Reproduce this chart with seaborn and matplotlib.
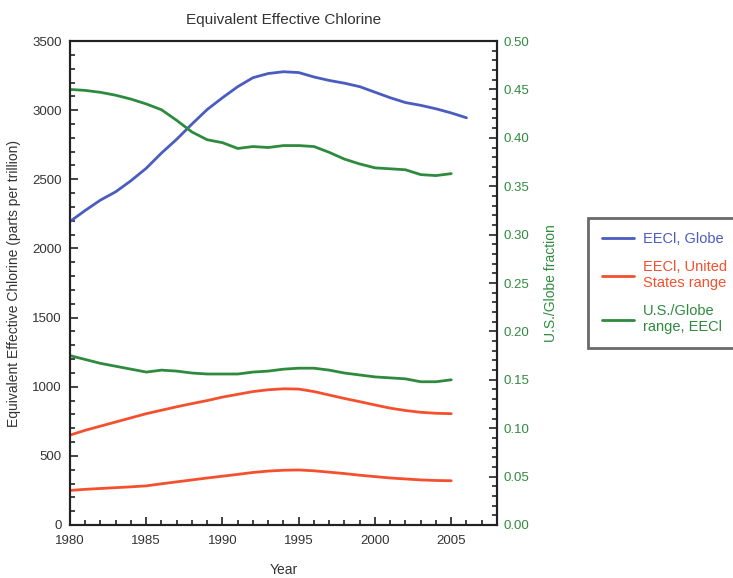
import matplotlib
matplotlib.use("Agg")
import matplotlib.pyplot as plt
import seaborn as sns
import pandas as pd
from matplotlib.ticker import MultipleLocator, FormatStrFormatter

years = list(range(1980, 2007))

eecl_globe = [2195, 2275, 2350, 2410, 2490, 2580, 2690, 2790, 2900, 3005,
              3090, 3170, 3235, 3265, 3278, 3272, 3240, 3215, 3195, 3170,
              3130, 3090, 3055, 3035, 3010, 2980, 2945]
us_high = [650, 685, 715, 745, 775, 805, 830, 855, 878, 900,
           925, 945, 965, 978, 985, 983, 965, 940, 915, 892,
           868, 845, 828, 815, 808, 805]
us_low = [250, 258, 264, 270, 276, 283, 298, 312, 326, 340,
          353, 366, 380, 390, 396, 398, 392, 382, 372, 360,
          350, 340, 333, 326, 322, 320]
frac_high = [0.450, 0.449, 0.447, 0.444, 0.440, 0.435, 0.429, 0.418, 0.406, 0.398,
             0.395, 0.389, 0.391, 0.390, 0.392, 0.392, 0.391, 0.385, 0.378, 0.373,
             0.369, 0.368, 0.367, 0.362, 0.361, 0.363]
frac_low = [0.175, 0.171, 0.167, 0.164, 0.161, 0.158, 0.160, 0.159, 0.157, 0.156,
            0.156, 0.156, 0.158, 0.159, 0.161, 0.162, 0.162, 0.160, 0.157, 0.155,
            0.153, 0.152, 0.151, 0.148, 0.148, 0.150]

BLUE = "#4a5cc0"
RED = "#f4502e"
GREEN = "#2e8b3e"
TXT = "#333333"

sns.set_style("ticks")
plt.rcParams["font.family"] = ["Liberation Sans", "DejaVu Sans"]

globe = pd.DataFrame({"year": years, "val": eecl_globe})
us = pd.DataFrame({"year": years[:26], "high": us_high, "low": us_low,
                   "fhigh": frac_high, "flow": frac_low})

fig = plt.figure(figsize=(7.33, 5.78), dpi=100)
ax = fig.add_axes([0.0955, 0.0917, 0.5825, 0.8373])
ax2 = ax.twinx()

sns.lineplot(x="year", y="val", data=globe, ax=ax, color=BLUE, lw=2, legend=False)
sns.lineplot(x="year", y="high", data=us, ax=ax, color=RED, lw=2, legend=False)
sns.lineplot(x="year", y="low", data=us, ax=ax, color=RED, lw=2, legend=False)
sns.lineplot(x="year", y="fhigh", data=us, ax=ax2, color=GREEN, lw=2, legend=False)
sns.lineplot(x="year", y="flow", data=us, ax=ax2, color=GREEN, lw=2, legend=False)

ax.set_xlim(1980, 2008)
ax.set_ylim(0, 3500)
ax2.set_ylim(0, 0.5)

ax.xaxis.set_major_locator(MultipleLocator(5))
ax.xaxis.set_minor_locator(MultipleLocator(1))
ax.yaxis.set_major_locator(MultipleLocator(500))
ax.yaxis.set_minor_locator(MultipleLocator(100))
ax2.yaxis.set_major_locator(MultipleLocator(0.05))
ax2.yaxis.set_minor_locator(MultipleLocator(0.01))
ax2.yaxis.set_major_formatter(FormatStrFormatter("%.2f"))

for a in (ax, ax2):
    for s in a.spines.values():
        s.set_color("#222222")
        s.set_linewidth(1.5)
ax.tick_params(which="both", direction="in", colors="#222222", labelcolor=TXT,
               labelsize=9.5, width=1.2, top=False)
ax.tick_params(axis="x", which="major", length=6, pad=7)
ax.tick_params(axis="y", which="major", length=6, pad=6)
ax.tick_params(which="minor", length=3.5)
ax2.tick_params(which="both", direction="in", colors="#222222", labelcolor=GREEN,
                labelsize=9.5, width=1.2)
ax2.tick_params(which="major", length=6, pad=5)
ax2.tick_params(which="minor", length=3.5)

ax.set_title("Equivalent Effective Chlorine", fontsize=11, color=TXT, pad=12)
ax.set_xlabel("Year", fontsize=10, color=TXT, labelpad=12)
ax.set_ylabel("Equivalent Effective Chlorine (parts per trillion)", fontsize=10,
              color=TXT, labelpad=8)
ax2.set_ylabel("U.S./Globe fraction", fontsize=10, color=GREEN, labelpad=10)

handles = [ax.get_lines()[0], ax.get_lines()[1], ax2.get_lines()[0]]
labels = ["EECl, Globe", "EECl, United\nStates range", "U.S./Globe\nrange, EECl"]
leg = fig.legend(handles, labels, loc="upper left", bbox_to_anchor=(0.802, 0.622),
                 frameon=True, fancybox=False, fontsize=10.5, handlelength=2.2,
                 handletextpad=0.6, labelspacing=0.95, borderpad=0.95,
                 borderaxespad=0)
leg.get_frame().set_edgecolor("#444444")
leg.get_frame().set_linewidth(2)
for t, c in zip(leg.get_texts(), [BLUE, RED, GREEN]):
    t.set_color(c)

fig.savefig("out.png", dpi=100)
